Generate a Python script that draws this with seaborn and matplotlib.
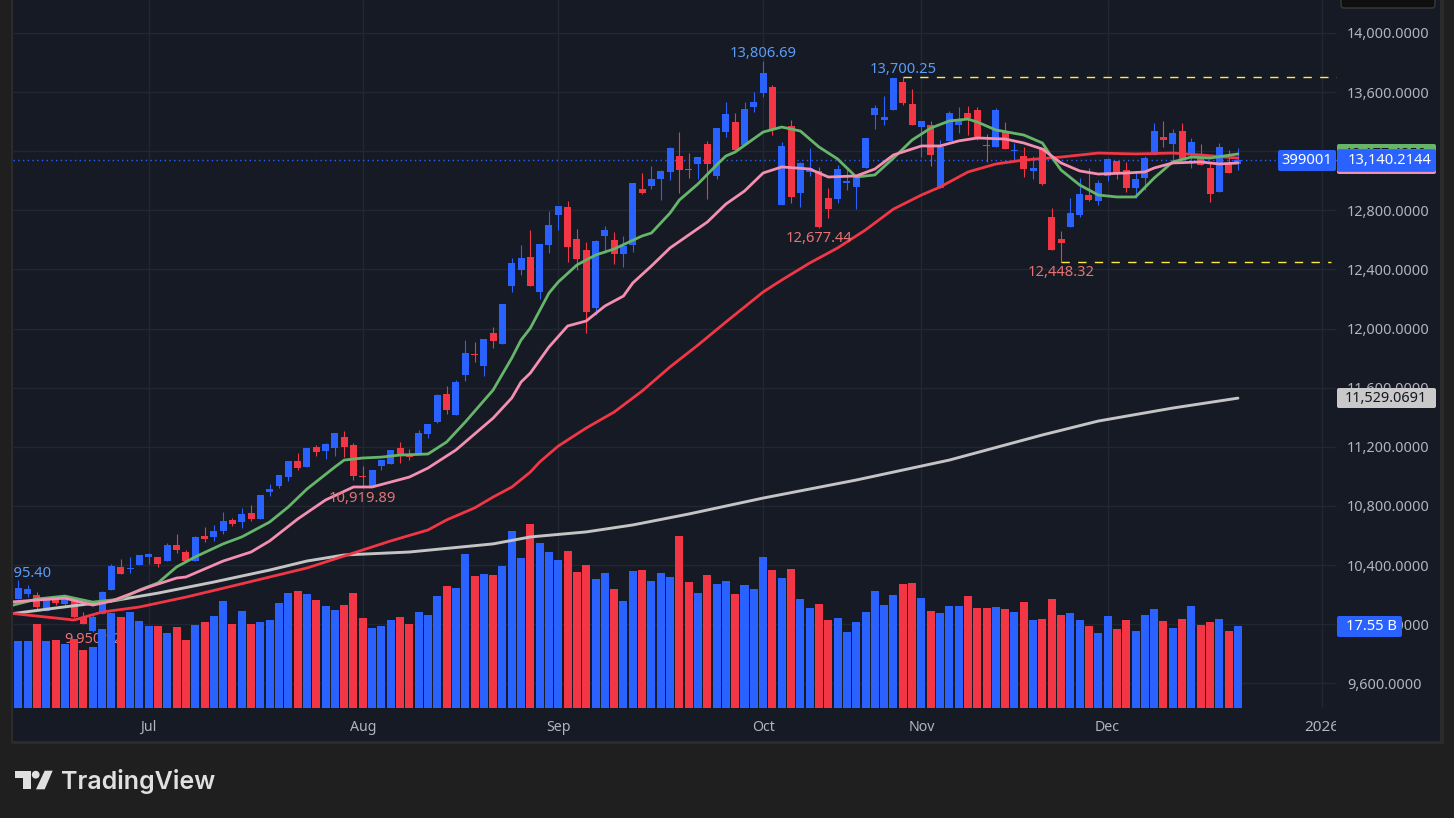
import matplotlib
matplotlib.use("Agg")
import matplotlib.pyplot as plt
import pandas as pd
import seaborn as sns
from matplotlib.patches import Circle, FancyBboxPatch, Polygon, Rectangle
from matplotlib.transforms import Affine2D, Bbox

W, H = 1454, 818
dpi = 100

BG = "#1f1f1f"
PANE = "#161a25"
FRAME = "#2b2b2b"
GRID = "#232732"
UP = "#2962ff"
DOWN = "#f23645"
GREEN = "#66b56a"
PINK = "#f48fb1"
WHITE = "#c4c4c4"
AXIS_TXT = "#b2b5be"
BLUE_TXT = "#5b9cf6"
RED_TXT = "#e57373"

opens = [
    10170, 10204, 10197, 10089, 10176, 10136, 10156, 10048, 9952, 10068,
    10231, 10387, 10373, 10401, 10455, 10455, 10428, 10536, 10488, 10428,
    10597, 10590, 10631, 10705, 10691, 10752, 10712, 10894, 10935, 10995,
    11103, 11063, 11198, 11171, 11192, 11266, 11212, 11002, 10925, 11070,
    11083, 11192, 11137, 11151, 11286, 11367, 11557, 11415, 11685, 11827,
    11746, 11970, 11895, 12288, 12396, 12484, 12247, 12565, 12768, 12822,
    12605, 12531, 12139, 12626, 12599, 12504, 12565, 12944, 12964, 13011,
    13059, 13167, 13079, 13113, 13248, 13032, 13329, 13397, 13242, 13498,
    13593, 13634, 12835, 13370, 12917, 13059, 13066, 12883, 12876, 12984,
    12957, 13086, 13445, 13411, 13478, 13668, 13519, 13363, 13377, 12950,
    13269, 13377, 13458, 13478, 13242, 13228, 13329, 13201, 13167, 13066,
    13221, 12754, 12605, 12687, 12768, 12903, 12862, 13032, 13133, 13072,
    12950, 13018, 13174, 13296, 13248, 13336, 13174, 13153, 13086, 12923,
    13113, 13113,
]
highs = [
    10295.4, 10264, 10217, 10163, 10190, 10190, 10176, 10082, 10062, 10224,
    10407, 10441, 10455, 10468, 10482, 10455, 10549, 10610, 10502, 10597,
    10657, 10671, 10759, 10718, 10786, 10806, 10874, 10948, 11009, 11103,
    11157, 11192, 11212, 11225, 11293, 11306, 11225, 11070, 11042, 11110,
    11178, 11232, 11185, 11313, 11354, 11557, 11611, 11652, 11922, 11909,
    11929, 12010, 12166, 12477, 12565, 12667, 12572, 12795, 12829, 12862,
    12673, 12585, 12599, 12694, 12653, 12626, 12984, 13052, 13099, 13072,
    13228, 13329, 13187, 13160, 13269, 13356, 13532, 13458, 13532, 13600,
    13806.69, 13647, 13262, 13411, 13127, 13221, 13093, 12950, 13106, 13079,
    13025, 13289, 13512, 13573, 13695, 13700.25, 13620, 13404, 13404, 13275,
    13472, 13498, 13505, 13498, 13316, 13492, 13397, 13255, 13228, 13167,
    13221, 12815, 12660, 12883, 13018, 13086, 13005, 13153, 13133, 13127,
    13052, 13167, 13390, 13404, 13350, 13390, 13289, 13248, 13120, 13255,
    13208, 13221,
]
lows = [
    10170, 10183, 10089, 10089, 10129, 10116, 10041, 10001, 9950, 10068,
    10231, 10340, 10347, 10401, 10407, 10387, 10428, 10482, 10428, 10428,
    10556, 10563, 10610, 10664, 10651, 10698, 10712, 10867, 10921, 10968,
    11042, 11063, 11137, 11117, 11137, 11130, 10975, 10919.89, 10925, 11042,
    11083, 11090, 11110, 11151, 11259, 11361, 11422, 11415, 11645, 11773,
    11679, 11868, 11895, 12247, 12362, 12288, 12200, 12511, 12667, 12450,
    12396, 11970, 12092, 12511, 12436, 12416, 12517, 12910, 12944, 12869,
    13005, 12917, 13018, 13011, 12876, 13011, 13296, 13208, 13242, 13465,
    13566, 13309, 12835, 12849, 12822, 13032, 12677.44, 12748, 12849, 12937,
    12808, 13086, 13350, 13377, 13478, 13512, 13377, 13160, 13099, 12950,
    13269, 13323, 13309, 13275, 13127, 13228, 13214, 13133, 13025, 13011,
    12971, 12531, 12448.32, 12687, 12754, 12862, 12835, 12998, 13011, 12923,
    12883, 12937, 13174, 13228, 13127, 13140, 13086, 13106, 12856, 12923,
    13052, 13072,
]
closes = [
    10244, 10237, 10116, 10163, 10143, 10176, 10048, 10001, 10048, 10217,
    10392, 10340, 10380, 10468, 10475, 10407, 10536, 10502, 10428, 10590,
    10577, 10631, 10698, 10678, 10745, 10712, 10874, 10914, 11009, 11103,
    11056, 11192, 11164, 11219, 11293, 11198, 11002, 10995, 11042, 11110,
    11178, 11151, 11130, 11293, 11354, 11550, 11449, 11638, 11834, 11820,
    11929, 11916, 12166, 12443, 12477, 12288, 12572, 12700, 12829, 12551,
    12470, 12111, 12592, 12667, 12504, 12558, 12984, 12917, 13011, 13066,
    13221, 13072, 13072, 13160, 13113, 13356, 13451, 13208, 13485, 13532,
    13729, 13350, 13235, 12890, 13120, 13086, 12687, 12808, 13079, 12998,
    13025, 13289, 13492, 13431, 13695, 13526, 13377, 13404, 13174, 13228,
    13458, 13404, 13424, 13282, 13235, 13478, 13214, 13208, 13079, 13086,
    12978, 12531, 12578, 12781, 12910, 12869, 12984, 13147, 13052, 12950,
    13011, 13153, 13336, 13275, 13323, 13147, 13262, 13106, 12910, 13228,
    13052, 13140.21,
]
# billions
volumes = [
    14.33, 14.33, 17.97, 14.33, 14.55, 13.69, 14.76, 12.41, 13.05, 16.90,
    20.32, 19.46, 20.53, 18.61, 17.54, 17.54, 16.04, 17.33, 14.55, 17.75,
    18.40, 19.68, 22.89, 17.97, 20.75, 17.97, 18.40, 18.82, 22.46, 24.60,
    25.03, 24.38, 23.10, 21.82, 20.96, 22.03, 24.60, 19.25, 17.11, 17.54,
    18.82, 19.46, 17.97, 20.53, 19.89, 23.96, 26.10, 25.67, 32.94, 28.23,
    28.66, 28.45, 30.37, 37.86, 32.09, 39.36, 35.29, 33.37, 31.66, 33.58,
    29.09, 30.59, 27.59, 28.88, 25.45, 22.89, 29.30, 29.52, 27.17, 28.88,
    28.02, 36.79, 26.95, 24.60, 28.45, 26.52, 27.17, 24.38, 26.31, 25.45,
    32.30, 29.52, 27.81, 29.73, 23.32, 21.39, 22.25, 18.82, 19.25, 16.26,
    18.40, 20.53, 25.03, 22.03, 24.17, 26.52, 26.74, 23.53, 20.75, 20.32,
    21.82, 21.82, 23.96, 21.39, 21.39, 21.60, 21.18, 20.53, 22.67, 18.82,
    19.04, 23.32, 19.89, 20.32, 18.82, 17.54, 16.04, 19.68, 16.90, 18.82,
    16.47, 19.89, 21.18, 18.61, 17.11, 19.04, 21.82, 17.75, 18.40, 19.04,
    16.47, 17.55,
]

fast_idx = [-1, 2, 5, 6, 8, 11, 13, 15, 17, 19, 22, 24, 27, 29, 31, 34, 35, 37, 39, 41, 44, 46, 48, 51, 53,
            54, 55, 57, 58, 60, 62, 64, 67, 68, 70, 71, 73, 75, 76, 77, 80, 82, 84, 86, 88, 90, 92, 94, 96,
            98, 100, 102, 103, 105, 108, 110, 111, 112, 114, 116, 118, 120, 122, 124, 126, 128, 131]
fast_ma = [10122, 10170, 10190, 10176, 10149, 10170, 10231, 10279, 10387, 10455, 10543, 10590, 10691, 10793,
           10914, 11063, 11110, 11124, 11130, 11144, 11151, 11232, 11367, 11584, 11800, 11922, 12003, 12240,
           12315, 12430, 12497, 12538, 12626, 12646, 12781, 12869, 12978, 13106, 13167, 13194, 13329, 13363,
           13336, 13228, 13147, 13025, 13039, 13153, 13275, 13356, 13404, 13417, 13397, 13343, 13309, 13255,
           13160, 13072, 12971, 12903, 12890, 12890, 13018, 13127, 13160, 13153, 13181]
mid_idx = [-1, 2, 5, 8, 10, 12, 14, 17, 18, 22, 25, 27, 30, 33, 36, 38, 42, 44, 47, 49, 51, 53, 54, 55, 57,
           59, 61, 63, 65, 66, 68, 70, 74, 76, 78, 80, 82, 85, 87, 90, 92, 94, 97, 99, 101, 103, 106, 108,
           110, 112, 114, 116, 119, 121, 122, 124, 127, 129, 131]
mid_ma = [10149, 10163, 10176, 10129, 10156, 10204, 10251, 10312, 10319, 10427, 10488, 10563, 10711, 10840,
          10928, 10928, 10995, 11056, 11178, 11286, 11394, 11530, 11638, 11699, 11875, 12017, 12051, 12152,
          12220, 12308, 12423, 12545, 12720, 12842, 12930, 13052, 13093, 13079, 13025, 13032, 13079, 13174,
          13235, 13235, 13269, 13289, 13282, 13255, 13214, 13120, 13066, 13045, 13052, 13059, 13086, 13120,
          13127, 13113, 13120]
slow_idx = [-1, 3, 6, 9, 13, 18, 23, 27, 31, 35, 40, 44, 46, 49, 51, 53, 55, 56, 58, 61, 64, 67, 70, 73, 76,
            80, 82, 85, 88, 91, 94, 97, 99, 102, 105, 108, 112, 116, 120, 124, 127, 131]
slow_ma = [10075, 10048, 10028, 10082, 10116, 10183, 10258, 10319, 10380, 10461, 10563, 10637, 10705, 10786,
           10860, 10927, 11029, 11097, 11205, 11327, 11435, 11577, 11740, 11888, 12044, 12247, 12328, 12443,
           12545, 12667, 12808, 12903, 12957, 13059, 13113, 13140, 13160, 13187, 13181, 13187, 13174, 13153]
long_idx = [-1, 4, 10, 15, 21, 27, 31, 35, 42, 51, 55, 61, 66, 72, 80, 90, 100, 110, 116, 124, 131]
long_ma = [10068, 10109, 10156, 10210, 10285, 10366, 10427, 10468, 10488, 10543, 10590, 10624, 10671, 10745,
           10853, 10975, 11110, 11280, 11374, 11462, 11529.07]

price_ticks = [9600, 10000, 10400, 10800, 11200, 11600, 12000, 12400, 12800, 13200, 13600, 14000]
month_idx = [14, 37, 58, 80, 97, 117, 140]
month_labels = ["Jul", "Aug", "Sep", "Oct", "Nov", "Dec", "2026"]

# label, bar, price, pixel offset, colour
price_marks = [
    ("13,806.69", 80, 13806.69, 8, BLUE_TXT),
    ("13,700.25", 95, 13700.25, 8, BLUE_TXT),
    ("12,677.44", 86, 12677.44, -10, RED_TXT),
    ("12,448.32", 112, 12448.32, -10, RED_TXT),
    ("10,919.89", 37, 10919.89, -10, RED_TXT),
    ("10,295.40", 0, 10295.40, 7, BLUE_TXT),
]

df = pd.DataFrame({"open": opens, "high": highs, "low": lows, "close": closes, "volume": volumes})
df["bar"] = df.index
df["dir"] = ["up" if c >= o else "down" for o, c in zip(opens, closes)]
palette = {"up": UP, "down": DOWN}

sns.set_theme(style="dark", rc={"figure.facecolor": BG, "axes.facecolor": PANE, "axes.grid": False})
plt.rcParams["font.family"] = ["Noto Sans", "DejaVu Sans"]

fig = plt.figure(figsize=(W / dpi, H / dpi), dpi=dpi, facecolor=BG)
px = Affine2D().scale(1, -1).translate(0, H)  # pixel coords, y down
pane_clip = Bbox.from_extents(13, 0, 1336, H)


def box(x0, y0, x1, y1, color, z=5, edge="none", round_px=2):
    fig.add_artist(FancyBboxPatch((x0, y0), x1 - x0, y1 - y0, boxstyle="round,pad=0,rounding_size=%d" % round_px,
                                  transform=px, facecolor=color, edgecolor=edge, linewidth=1, zorder=z, clip_on=False))


# frame and pane behind the axes
fig.add_artist(Rectangle((11, -2), 1433, 746, transform=px, facecolor=FRAME, edgecolor="none", zorder=-2))
fig.add_artist(Rectangle((13, -2), 1427, 743, transform=px, facecolor=PANE, edgecolor="none", zorder=-1))

rect = [13 / W, (H - 708) / H, 1324 / W, 708 / H]
xlim = (-0.57, 141.64)
ylim = (9432.8, 14222.4)

# volume under everything else
axv = fig.add_axes(rect, zorder=1)
axv.patch.set_visible(False)
sns.barplot(data=df, x="bar", y="volume", hue="dir", palette=palette, native_scale=True, dodge=False,
            width=0.86, errorbar=None, legend=False, saturation=1, linewidth=0, ax=axv)
axv.set_xlim(xlim)
axv.set_ylim(0, 151.5)
axv.set_xticks([])
axv.set_yticks([])
axv.set_xlabel("")
axv.set_ylabel("")
for s in axv.spines.values():
    s.set_visible(False)

ax = fig.add_axes(rect, zorder=2)
ax.patch.set_visible(False)
ax.set_xlim(xlim)
ax.set_ylim(ylim)

# grid and the low label sit under the volume bars
axv.hlines(price_ticks, xlim[0], xlim[1] - 0.1, transform=ax.transData, color=GRID, lw=1, zorder=0)
axv.vlines(month_idx, ylim[0], ylim[1], transform=ax.transData, color=GRID, lw=1, zorder=0)
low_txt = axv.annotate("9,950.12", (8, 9950), xycoords=ax.transData, xytext=(0, -8), textcoords="offset pixels",
                       ha="center", va="center", color=RED_TXT, fontsize=10.4, zorder=0.5)

# candles
wick_colors = [palette[d] for d in df["dir"]]
ax.vlines(df["bar"], df["low"], df["high"], colors=wick_colors, lw=0.8, zorder=2)
body_low = df[["open", "close"]].min(axis=1)
body_h = (df["open"] - df["close"]).abs().clip(lower=7)
ax.bar(df["bar"], body_h, bottom=body_low, width=0.75, color=wick_colors, linewidth=0, zorder=3)

# moving averages
ma_lines = [(long_idx, long_ma, WHITE, 2.1), (slow_idx, slow_ma, DOWN, 2.0),
            (fast_idx, fast_ma, GREEN, 2.0), (mid_idx, mid_ma, PINK, 2.0)]
for idx, vals, col, lw in ma_lines:
    sns.lineplot(x=idx, y=vals, color=col, linewidth=lw, errorbar=None, legend=False, ax=ax, zorder=4)

# high / low markers
ax.hlines(13700.25, 95, 141.6, color="#ffeb3b", lw=1, linestyles=(0, (6, 6)), zorder=4)
ax.hlines(12448.32, 112, 141, color="#ffeb3b", lw=1, linestyles=(0, (6, 6)), zorder=4)
ax.hlines(closes[-1], xlim[0], xlim[1], color=UP, lw=1, linestyles=(0, (1, 2.4)), zorder=1)

for label, bar, price, off, col in price_marks:
    t = ax.annotate(label, (bar, price), xytext=(0, off), textcoords="offset pixels", ha="center", va="center",
                    color=col, fontsize=10.6, zorder=5)
    t.set_clip_on(True)
    t.set_clip_box(pane_clip)

# axes ticks
ax.yaxis.tick_right()
ax.set_yticks(price_ticks)
ax.set_yticklabels(["{:,.4f}".format(p) for p in price_ticks], color=AXIS_TXT, fontsize=10.4)
ax.set_xticks(month_idx)
ax.set_xticklabels(month_labels, color=AXIS_TXT, fontsize=10.2)
ax.tick_params(axis="y", length=0, pad=7.2)
ax.tick_params(axis="x", length=0, pad=8.5)
ax.set_xlabel("")
ax.set_ylabel("")
for s in ax.spines.values():
    s.set_visible(False)
year = ax.xaxis.get_major_ticks()[-1].label1
year.set_fontweight("bold")
year.set_fontsize(11)
year.set_clip_on(True)
year.set_clip_box(pane_clip)

# right-hand price tags
box(1341, -6, 1435, 8, "#0f0f0f", edge="#3a3a3a", round_px=3)
box(1337, 144, 1436, 166, GREEN)
fig.text(1386, 155, "13,177.4350", transform=px, ha="center", va="center", color="#10131a", fontsize=10.4, zorder=5)
box(1337, 153, 1436, 174, PINK)
box(1337, 149, 1436, 172, DOWN, z=5.2)
box(1337, 150, 1436, 171, UP, z=5.4)
fig.text(1390, 160, "13,140.2144", transform=px, ha="center", va="center", color="white", fontsize=10.6, zorder=6)
box(1278, 150, 1336, 171, UP, z=5.4)
fig.text(1307, 160, "399001", transform=px, ha="center", va="center", color="white", fontsize=10.6, zorder=6)
box(1337, 388, 1436, 408, "#c9c9c9")
fig.text(1386, 398, "11,529.0691", transform=px, ha="center", va="center", color="#131722", fontsize=10.4, zorder=6)
box(1337, 616, 1402, 637, UP)
fig.text(1371, 626, "17.55 B", transform=px, ha="center", va="center", color="white", fontsize=10.6, zorder=6)

# TradingView logo
LOGO = "#e0e0e0"
fig.add_artist(Polygon([(15.3, 770.7), (30.7, 770.7), (30.7, 789.3), (22.7, 789.3), (22.7, 778.3), (15.3, 778.3)],
                       transform=px, facecolor=LOGO, edgecolor="none"))
fig.add_artist(Circle((35.7, 774.7), 3.9, transform=px, facecolor=LOGO, edgecolor="none"))
fig.add_artist(Polygon([(44.7, 770.7), (52.7, 770.7), (44.7, 789.3), (36, 789.3)],
                       transform=px, facecolor=LOGO, edgecolor="none"))
fig.text(61.5, 789.3, "TradingView", transform=px, ha="left", va="baseline", color=LOGO,
         fontsize=18, fontweight="semibold", family=["Inter", "DejaVu Sans"])

fig.savefig("out.png", dpi=dpi, facecolor=BG)
